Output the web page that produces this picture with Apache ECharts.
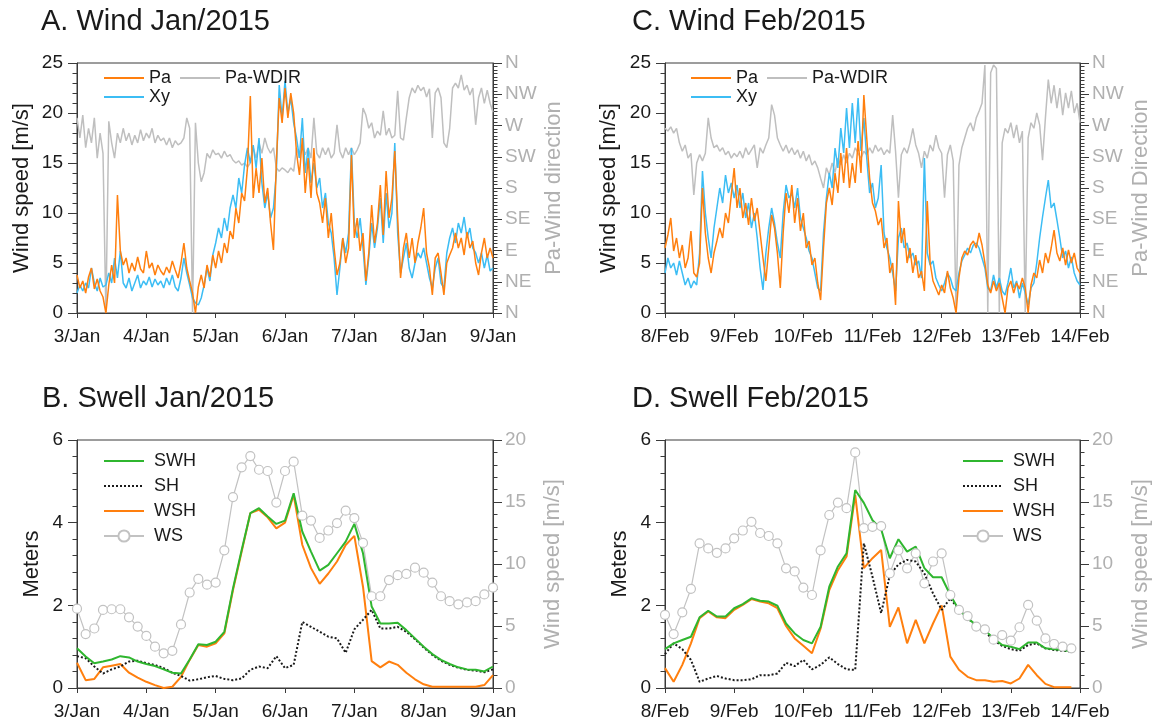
<!DOCTYPE html>
<html>
<head>
<meta charset="utf-8">
<script src="https://cdn.jsdelivr.net/npm/echarts@6.0.0/dist/echarts.min.js"></script>
<style>
html,body{margin:0;padding:0;background:#fff;}
#chart{width:1156px;height:728px;}
</style>
</head>
<body>
<div id="chart"></div>
<script>
// Day tick labels (one per 24 h) and compass labels (one per 45 deg)
const janTicks = ['3/Jan','4/Jan','5/Jan','6/Jan','7/Jan','8/Jan','9/Jan'];
const febTicks = ['8/Feb','9/Feb','10/Feb','11/Feb','12/Feb','13/Feb','14/Feb'];
const dirTicks = ['N','NE','E','SE','S','SW','W','NW','N'];

// Hourly wind speed [m/s], 3/Jan 00h .. 9/Jan 00h
const janPa = [
  3.8,2.5,3.2,2.0,3.6,4.5,2.4,3.4,2.2,1.6,
  0.0,2.8,4.8,3.0,11.8,6.2,4.8,5.5,4.0,5.0,
  4.2,5.6,4.4,4.0,6.2,4.5,5.0,3.8,4.8,4.2,
  3.8,4.6,4.0,5.2,4.3,3.5,5.0,7.0,4.5,3.2,
  2.0,0.0,2.6,3.8,2.5,4.8,3.6,5.8,4.5,6.2,
  5.0,7.0,6.0,8.2,7.4,10.5,9.0,12.0,11.2,14.5,
  21.7,11.5,14.5,12.0,15.5,11.0,12.5,9.0,6.3,15.0,
  21.5,19.0,22.5,19.5,22.0,20.0,16.0,13.8,17.5,12.0,
  15.5,11.5,16.5,12.0,11.0,9.0,11.5,7.5,10.0,6.5,
  3.8,5.0,7.5,5.0,6.5,15.8,7.5,9.5,6.2,8.0,
  3.2,6.0,10.8,7.0,9.0,12.8,7.8,14.2,9.5,11.5,
  16.2,9.5,3.5,6.5,8.0,5.5,7.5,5.0,7.0,8.5,
  10.5,6.0,4.5,1.8,5.5,6.0,4.0,1.8,5.0,5.8,
  6.5,8.0,6.5,7.5,5.8,8.1,6.5,7.2,5.0,3.8,
  6.0,7.5,5.5,6.5,5.5
];
const janXy = [
  2.0,2.8,2.2,3.0,2.5,4.5,3.0,2.2,3.5,2.6,
  2.8,4.0,3.0,5.5,3.5,6.2,3.0,2.5,3.5,2.2,
  3.0,3.8,2.5,3.2,2.8,3.6,2.6,3.4,2.8,3.2,
  2.5,3.5,2.8,3.8,2.6,2.2,3.5,5.5,4.0,2.8,
  1.5,1.0,0.8,1.5,2.8,4.5,3.2,5.8,7.0,8.5,
  7.5,9.5,8.2,10.5,11.8,10.5,13.5,12.0,14.8,16.5,
  15.0,16.8,14.5,17.5,13.0,10.5,12.0,9.5,10.5,14.0,
  22.8,19.5,23.2,20.0,21.5,19.0,17.5,15.5,19.5,14.0,
  16.5,13.0,15.0,12.5,13.5,10.5,12.0,9.0,8.0,5.5,
  1.8,4.5,7.5,6.0,8.0,16.5,9.0,7.5,9.5,6.5,
  2.8,5.5,9.0,6.5,8.5,11.5,7.0,12.0,8.5,10.0,
  17.0,8.0,4.0,5.5,7.0,4.5,3.5,5.0,6.0,5.5,
  6.5,5.0,3.5,2.5,4.5,5.5,3.0,2.5,6.0,7.5,
  8.5,7.0,9.0,8.0,9.6,7.5,8.5,6.5,6.0,5.0,
  6.0,4.5,5.8,4.2,4.5
];
// Hourly wind direction [deg from N]
const janPaDir = [
  281,252,285,238,266,245,281,223,259,230,
  0,276,245,223,259,245,266,248,259,242,
  256,245,264,248,259,252,266,245,256,248,
  252,242,252,238,248,242,245,252,281,266,
  0,274,216,189,202,230,223,235,228,230,
  223,233,225,228,220,216,219,213,216,210,
  216,238,223,245,230,252,238,230,238,209,
  204,209,206,202,209,204,238,223,242,228,
  238,223,281,230,223,238,228,238,223,230,
  271,233,223,238,228,238,228,235,245,295,
  285,266,274,252,262,256,291,256,266,252,
  256,320,252,249,281,310,324,317,328,320,
  325,311,323,252,317,324,310,245,238,266,
  324,331,324,343,321,328,314,324,271,310,
  324,302,321,302,289
];

// Hourly wind speed [m/s], 8/Feb 00h .. 14/Feb 00h
const febPa = [
  6.5,7.8,9.5,6.2,7.5,5.5,6.8,4.5,5.5,8.2,
  4.0,3.6,5.0,12.5,8.0,5.5,4.0,6.0,7.2,8.5,
  7.5,10.0,9.0,11.8,14.5,10.5,12.5,9.5,11.0,8.8,
  11.5,9.2,10.5,8.0,5.5,3.2,6.5,9.8,8.5,6.0,
  2.5,8.0,12.0,10.0,12.8,9.0,11.5,8.2,10.0,6.5,
  7.2,4.8,5.5,3.0,1.3,6.5,11.0,12.5,10.8,14.0,
  12.0,16.0,13.0,16.5,12.5,15.0,13.0,17.2,14.0,21.8,
  17.5,13.5,11.0,10.2,8.8,9.5,6.5,7.5,4.0,5.0,
  0.8,11.2,7.0,8.5,5.0,6.5,4.0,5.8,3.5,4.2,
  2.2,11.2,5.0,3.2,2.5,1.8,2.8,2.0,4.2,2.5,
  1.5,0.0,3.5,5.5,6.2,5.8,6.8,7.2,6.5,8.0,
  6.8,5.0,2.8,2.0,3.2,2.2,3.0,1.5,0.0,2.5,
  3.2,2.0,3.0,2.4,3.5,2.5,0.0,2.8,4.0,3.5,
  5.3,4.0,6.0,5.0,6.5,8.3,6.0,5.2,6.5,4.8,
  6.3,5.0,6.0,4.5,4.0
];
const febXy = [
  4.0,5.5,4.5,5.0,3.8,5.2,4.0,2.8,3.5,2.5,
  3.2,2.8,6.0,14.2,10.0,7.5,5.5,8.5,10.5,12.5,
  11.0,13.8,12.0,13.0,11.5,12.8,10.5,12.0,9.5,11.0,
  8.5,10.0,7.5,4.5,2.3,6.0,8.5,10.5,9.0,7.0,
  5.5,10.0,12.8,11.5,12.0,10.5,12.5,9.5,8.5,7.5,
  6.2,5.5,4.0,2.5,2.2,8.0,11.5,14.0,12.5,16.5,
  14.5,18.5,16.0,20.5,16.5,21.0,17.0,21.5,16.2,19.5,
  15.5,12.0,13.0,10.5,11.5,14.8,8.0,6.5,5.5,4.0,
  2.2,7.5,8.5,6.5,7.0,5.5,6.0,4.8,5.2,3.5,
  15.5,6.0,4.8,5.2,3.5,2.8,2.2,3.0,4.0,3.5,
  2.5,2.2,4.0,5.2,5.8,6.5,6.0,6.8,7.0,6.5,
  5.5,4.5,2.5,2.2,3.8,2.5,3.5,2.2,1.8,3.0,
  4.5,2.5,3.2,1.5,3.0,2.0,0.8,2.5,3.0,5.0,
  7.5,9.6,11.5,13.3,10.5,11.0,9.3,7.5,5.5,6.2,
  4.5,5.6,4.0,3.2,2.8
];
const febPaDir = [
  266,262,268,259,266,245,233,242,223,230,
  170,216,228,219,230,281,252,238,242,233,
  238,228,233,223,230,225,233,223,238,228,
  235,242,209,238,230,242,252,300,285,252,
  242,233,242,230,238,228,235,223,233,219,
  228,213,219,209,194,180,209,199,216,202,
  223,213,228,216,230,223,238,230,223,233,
  228,238,230,242,233,238,228,235,230,285,
  233,166,228,238,230,245,266,242,230,209,
  233,223,242,233,256,238,230,166,228,242,
  219,0,213,238,252,266,274,262,281,291,
  302,357,0,346,357,352,0,245,266,259,
  274,252,271,245,262,0,252,274,266,288,
  271,220,281,336,302,328,295,324,285,317,
  295,320,288,302,274
];

// 3-hourly swell heights [m] and wind speed [m/s]
const janSWH = [0.96,0.76,0.6,0.64,0.69,0.77,0.74,0.64,0.58,0.53,0.45,0.37,0.35,0.69,1.06,1.04,1.12,1.36,2.41,3.34,4.23,4.35,4.15,3.97,4.05,4.71,3.78,3.3,2.84,2.98,3.26,3.54,3.97,3.26,1.97,1.56,1.56,1.58,1.4,1.2,1.0,0.82,0.68,0.58,0.5,0.45,0.44,0.4,0.52];
const janSH  = [0.77,0.72,0.52,0.35,0.45,0.52,0.64,0.66,0.6,0.56,0.48,0.37,0.29,0.18,0.21,0.26,0.29,0.22,0.19,0.23,0.44,0.52,0.48,0.77,0.48,0.56,1.6,1.48,1.36,1.24,1.2,0.85,1.42,1.65,1.89,1.44,1.44,1.48,1.36,1.18,0.98,0.8,0.66,0.56,0.49,0.44,0.42,0.38,0.45];
const janWSH = [0.61,0.19,0.22,0.5,0.54,0.58,0.37,0.25,0.15,0.07,0.0,0.03,0.27,0.68,1.04,1.0,1.08,1.32,2.37,3.3,4.23,4.31,4.13,3.86,4.0,4.67,3.46,2.9,2.52,2.77,3.06,3.46,3.68,2.45,0.65,0.5,0.64,0.56,0.37,0.21,0.09,0.03,0.03,0.03,0.03,0.03,0.03,0.07,0.31];
const janWS  = [6.4,4.35,4.8,6.3,6.35,6.35,5.7,4.95,4.2,3.33,2.8,3.0,5.13,7.7,8.8,8.33,8.5,11.1,15.4,17.8,18.7,17.6,17.5,14.95,17.5,18.25,13.9,13.5,12.1,12.7,13.3,14.3,13.7,11.7,7.4,7.4,8.7,9.1,9.2,9.7,9.3,8.5,7.4,7.0,6.75,6.9,7.0,7.55,8.1];

const febSWH = [0.94,1.08,1.16,1.24,1.71,1.87,1.73,1.73,1.93,2.03,2.17,2.11,2.09,1.99,1.56,1.32,1.16,1.08,1.48,2.45,2.94,3.26,4.79,4.48,4.06,3.84,3.14,3.6,3.3,3.42,2.9,2.68,2.68,2.25,1.89,1.69,1.52,1.4,1.2,1.04,1.0,0.94,1.1,1.1,0.96,0.94,0.92,0.88];
const febSH  = [0.82,1.08,0.94,0.68,0.15,0.23,0.29,0.23,0.19,0.19,0.21,0.31,0.31,0.35,0.61,0.53,0.68,0.45,0.56,0.74,0.58,0.45,0.44,3.5,2.69,1.81,2.73,2.99,3.1,3.06,2.77,2.29,1.89,2.17,1.89,1.69,1.5,1.36,1.16,1.02,0.94,0.9,1.04,1.08,0.96,0.92,0.9,0.88];
const febWSH = [0.48,0.15,0.56,1.08,1.69,1.85,1.71,1.69,1.89,2.01,2.15,2.09,2.05,1.93,1.5,1.2,1.02,0.84,1.44,2.37,2.85,3.18,4.67,2.9,3.14,3.34,1.48,1.95,1.08,1.65,1.08,1.56,2.0,0.76,0.44,0.27,0.19,0.19,0.15,0.17,0.11,0.23,0.56,0.31,0.1,0.02,0.02,0.02];
const febWS  = [5.9,4.35,6.1,8.0,11.67,11.26,10.9,11.26,12.07,12.7,13.4,12.5,12.26,11.67,9.65,9.4,8.1,7.5,11.1,13.95,14.95,14.5,19.0,12.9,13.0,13.06,9.25,11.1,9.65,10.86,8.44,10.2,10.86,7.5,6.3,5.8,4.95,4.73,3.9,4.27,3.82,4.9,6.7,5.43,4.0,3.55,3.33,3.2];

const FONT = "'Liberation Sans', Arial, Helvetica, sans-serif";
const INK = '#1a1a1a';
const AXIS = '#3a3a3a';
const GREY_TXT = '#b0b0b0';
const C_PA = '#ff7f0e', C_XY = '#3cbdf4', C_DIR = '#bfbfbf';
const C_SWH = '#2fb62f', C_SH = '#1a1a1a', C_WSH = '#ff7f0e', C_WS = '#c2c2c2';

// [hour, value] pairs; samples are evenly spaced by `step` hours
function pts(arr, step) { return arr.map((v, i) => [i * step, v]); }

const grids = [
  {left: 77,  top: 63,  width: 416, height: 250},
  {left: 77,  top: 440, width: 416, height: 248},
  {left: 665, top: 63,  width: 415, height: 250},
  {left: 665, top: 440, width: 415, height: 248}
].map(g => Object.assign(g, {show: true, borderColor: AXIS, borderWidth: 1,
  backgroundColor: 'transparent', containLabel: false, outerBoundsMode: 'none'}));

function timeAxis(gi, labels) {
  return {
    type: 'value', gridIndex: gi, min: 0, max: 144, interval: 24,
    axisLine: {show: true, onZero: false, lineStyle: {color: AXIS, width: 1}},
    axisTick: {show: true, inside: false, length: 5, lineStyle: {color: AXIS}},
    axisLabel: {margin: 14, fontSize: 19, color: INK, fontFamily: FONT,
      showMinLabel: true, showMaxLabel: true, hideOverlap: false,
      formatter: v => labels[Math.round(v / 24)] || ''},
    splitLine: {show: false}
  };
}

function valAxis(gi, side, min, max, interval, minorSplit, labelColor, name, nameColor, nameGap, fmt) {
  const ax = {
    type: 'value', gridIndex: gi, position: side, min, max, interval,
    name, nameLocation: 'middle', nameGap, nameRotate: 90,
    nameTextStyle: {fontSize: 22, color: nameColor, fontFamily: FONT},
    axisLine: {show: true, onZero: false, lineStyle: {color: AXIS, width: 1}},
    axisTick: {show: true, inside: false, length: 9, lineStyle: {color: AXIS}},
    minorTick: {show: true, splitNumber: minorSplit, length: 4.5, lineStyle: {color: AXIS}},
    axisLabel: {margin: side === 'left' ? 14 : 12, fontSize: 19, color: labelColor, fontFamily: FONT,
      showMinLabel: true, showMaxLabel: true},
    splitLine: {show: false}, minorSplitLine: {show: false}
  };
  if (fmt) ax.axisLabel.formatter = fmt;
  return ax;
}
const dirFmt = v => dirTicks[Math.round(v / 45)];

function line(name, xi, yi, data, color, width, extra) {
  return Object.assign({
    name, type: 'line', xAxisIndex: xi, yAxisIndex: yi, data,
    symbol: 'none', color, lineStyle: {color, width},
    emphasis: {disabled: true}, silent: true
  }, extra || {});
}
const wsStyle = {symbol: 'circle', symbolSize: 9, showSymbol: true,
  itemStyle: {color: '#ffffff', borderColor: C_WS, borderWidth: 1.2},
  lineStyle: {color: C_WS, width: 1.2}};
const shStyle = {lineStyle: {color: C_SH, width: 2, type: [2, 2]}};

const series = [
  // A. Wind Jan
  line('Pa-WDIR', 0, 1, pts(janPaDir, 1), C_DIR, 1.5),
  line('Xy', 0, 0, pts(janXy, 1), C_XY, 1.5),
  line('Pa', 0, 0, pts(janPa, 1), C_PA, 1.5),
  // B. Swell Jan
  line('WS', 1, 3, pts(janWS, 3), C_WS, 1.2, wsStyle),
  line('WSH', 1, 2, pts(janWSH, 3), C_WSH, 2),
  line('SH', 1, 2, pts(janSH, 3), C_SH, 2, shStyle),
  line('SWH', 1, 2, pts(janSWH, 3), C_SWH, 2),
  // C. Wind Feb
  line('Pa-WDIR', 2, 5, pts(febPaDir, 1), C_DIR, 1.5),
  line('Xy', 2, 4, pts(febXy, 1), C_XY, 1.5),
  line('Pa', 2, 4, pts(febPa, 1), C_PA, 1.5),
  // D. Swell Feb
  line('WS', 3, 7, pts(febWS, 3), C_WS, 1.2, wsStyle),
  line('WSH', 3, 6, pts(febWSH, 3), C_WSH, 2),
  line('SH', 3, 6, pts(febSH, 3), C_SH, 2, shStyle),
  line('SWH', 3, 6, pts(febSWH, 3), C_SWH, 2)
];

// legend entries: plain line samples hide the marker, WS keeps its open circle
const plain = name => ({name, itemStyle: {opacity: 0}});
const legendText = {fontSize: 18, lineHeight: 18, color: INK, fontFamily: FONT};
const legendBase = {selectedMode: false, itemWidth: 40, itemHeight: 14, padding: 0};
const swellItems = [plain('SWH'), plain('SH'), plain('WSH'), {name: 'WS'}];
const legends = [
  Object.assign({}, legendBase, {data: [plain('Pa'), plain('Pa-WDIR')], left: 103, top: 69,
    orient: 'horizontal', itemGap: 8, textStyle: legendText}),
  Object.assign({}, legendBase, {data: [plain('Xy')], left: 103, top: 88,
    orient: 'horizontal', textStyle: legendText}),
  Object.assign({}, legendBase, {data: [plain('Pa'), plain('Pa-WDIR')], left: 690, top: 69,
    orient: 'horizontal', itemGap: 8, textStyle: legendText}),
  Object.assign({}, legendBase, {data: [plain('Xy')], left: 690, top: 88,
    orient: 'horizontal', textStyle: legendText}),
  Object.assign({}, legendBase, {data: swellItems, left: 103, top: 452, orient: 'vertical', itemGap: 7,
    textStyle: Object.assign({padding: [0, 0, 0, 5]}, legendText)}),
  Object.assign({}, legendBase, {data: swellItems, left: 962, top: 452, orient: 'vertical', itemGap: 7,
    textStyle: Object.assign({padding: [0, 0, 0, 5]}, legendText)})
];

const titles = [
  {text: 'A. Wind Jan/2015', left: 41, top: 7},
  {text: 'B. Swell Jan/2015', left: 42, top: 384},
  {text: 'C. Wind Feb/2015', left: 632, top: 7},
  {text: 'D. Swell Feb/2015', left: 632, top: 384}
].map(t => Object.assign(t, {padding: 0,
  textStyle: {fontSize: 29, fontWeight: 'normal', color: INK, fontFamily: FONT}}));

const option = {
  animation: false,
  backgroundColor: '#ffffff',
  title: titles,
  legend: legends,
  grid: grids,
  xAxis: [timeAxis(0, janTicks), timeAxis(1, janTicks), timeAxis(2, febTicks), timeAxis(3, febTicks)],
  yAxis: [
    valAxis(0, 'left', 0, 25, 5, 5, INK, 'Wind speed [m/s]', INK, 44),
    valAxis(0, 'right', 0, 360, 45, 9, GREY_TXT, 'Pa-Wind direction', GREY_TXT, 50, dirFmt),
    valAxis(1, 'left', 0, 6, 2, 5, INK, 'Meters', INK, 34),
    valAxis(1, 'right', 0, 20, 5, 5, GREY_TXT, 'Wind speed [m/s]', GREY_TXT, 49),
    valAxis(2, 'left', 0, 25, 5, 5, INK, 'Wind speed [m/s]', INK, 45),
    valAxis(2, 'right', 0, 360, 45, 9, GREY_TXT, 'Pa-Wind Direction', GREY_TXT, 50, dirFmt),
    valAxis(3, 'left', 0, 6, 2, 5, INK, 'Meters', INK, 34),
    valAxis(3, 'right', 0, 20, 5, 5, GREY_TXT, 'Wind speed [m/s]', GREY_TXT, 50)
  ],
  series
};

const chart = echarts.init(document.getElementById('chart'), null, {renderer: 'canvas'});
chart.setOption(option);
</script>
</body>
</html>
